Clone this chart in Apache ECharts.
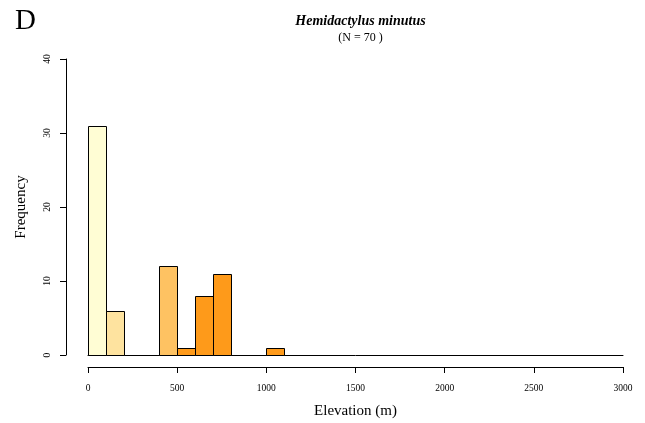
<!DOCTYPE html>
<html>
<head>
<meta charset="utf-8">
<script src="https://cdn.jsdelivr.net/npm/echarts@6/dist/echarts.min.js"></script>
<style>
html,body{margin:0;padding:0;background:#fff;}
#chart{width:645px;height:423px;}
</style>
</head>
<body>
<div id="chart"></div>
<script>
// Data
const binStarts = [0, 100, 400, 500, 600, 700, 1000];
const binWidth = 100;
const counts = [31, 6, 12, 1, 8, 11, 1];
const barColors = ['#FFFDD4', '#FEE39F', '#FEC262', '#FE9A1A', '#FE9A1A', '#FE9A1A', '#FE9A1A'];
const xTicks = [0, 500, 1000, 1500, 2000, 2500, 3000];
const yTicks = [0, 10, 20, 30, 40];

const FONT = '"Liberation Serif", "DejaVu Serif", serif';
const chart = echarts.init(document.getElementById('chart'), null, {renderer: 'canvas'});

const data = binStarts.map((s, i) => [s, s + binWidth, counts[i], i]);

chart.setOption({
  animation: false,
  backgroundColor: '#fff',
  title: [
    {text: 'D', left: 10, top: 2, textStyle: {fontFamily: FONT, fontSize: 29, fontWeight: 'normal', color: '#000'}},
    {text: 'Hemidactylus minutus', left: 355.5, textAlign: 'center', top: 9,
     textStyle: {fontFamily: FONT, fontSize: 14, fontWeight: 'bold', fontStyle: 'italic', color: '#000'}},
    {text: '(N = 70 )', left: 355.5, textAlign: 'center', top: 27,
     textStyle: {fontFamily: FONT, fontSize: 12, fontWeight: 'normal', color: '#000'}}
  ],
  grid: {left: 88, right: 22, top: 59, bottom: 68, containLabel: false, outerBoundsMode: 'none'},
  xAxis: [
    {
      type: 'value', min: 0, max: 3000, interval: 500, offset: 12,
      name: 'Elevation (m)', nameLocation: 'middle', nameGap: 37,
      nameTextStyle: {fontFamily: FONT, fontSize: 15, color: '#000'},
      axisLine: {show: true, onZero: false, lineStyle: {color: '#000', width: 1}},
      axisTick: {show: true, length: 6, lineStyle: {color: '#000'}},
      axisLabel: {fontFamily: FONT, fontSize: 9.5, color: '#000', margin: 16,
                  formatter: v => xTicks.includes(v) ? String(v) : ''},
      splitLine: {show: false}
    },
    {
      type: 'value', min: 0, max: 3000, position: 'bottom', offset: 0,
      axisLine: {show: true, onZero: false, lineStyle: {color: '#000', width: 1}},
      axisTick: {show: false}, axisLabel: {show: false}, splitLine: {show: false}
    }
  ],
  yAxis: {
    type: 'value', min: 0, max: 40, interval: 10, offset: 22,
    name: 'Frequency', nameLocation: 'middle', nameGap: 37, nameRotate: 90,
    nameTextStyle: {fontFamily: FONT, fontSize: 15, color: '#000'},
    axisLine: {show: true, onZero: false, lineStyle: {color: '#000', width: 1}},
    axisTick: {show: true, length: 6, lineStyle: {color: '#000'}},
    axisLabel: {fontFamily: FONT, fontSize: 9.5, color: '#000', rotate: 90, margin: 14,
                formatter: v => yTicks.includes(v) ? String(v) : ''},
    splitLine: {show: false}
  },
  series: [{
    type: 'custom',
    xAxisIndex: 0,
    data: data,
    renderItem: function (params, api) {
      const x0 = api.value(0), x1 = api.value(1), y = api.value(2), idx = api.value(3);
      const pTop = api.coord([x0, y]);
      const pBot = api.coord([x1, 0]);
      return {
        type: 'rect',
        shape: {x: Math.round(pTop[0]) + 0.5, y: Math.round(pTop[1]) + 0.5,
                width: Math.round(pBot[0]) - Math.round(pTop[0]), height: Math.round(pBot[1]) - Math.round(pTop[1])},
        style: {fill: barColors[idx], stroke: '#000', lineWidth: 1}
      };
    }
  }]
});
</script>
</body>
</html>
